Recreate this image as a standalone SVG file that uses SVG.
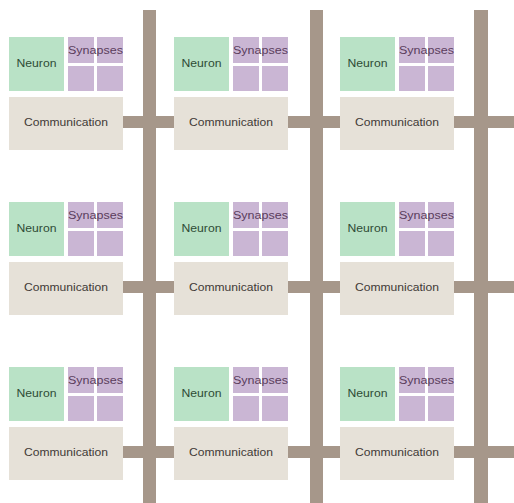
<svg xmlns="http://www.w3.org/2000/svg" width="514" height="503" viewBox="0 0 514 503">
<style>
.bar{fill:#a6978a}
.neu{fill:#b9e2c6}
.syn{fill:#cab6d4}
.com{fill:#e6e1d8}
text{font-family:"Liberation Sans",Arial,sans-serif;text-anchor:middle}
.tn{font-size:10px;fill:#2f4c36}
.ts{font-size:10px;fill:#5b3d5c}
.tc{font-size:10.5px;fill:#3f3a36}
</style>
<defs>
<g id="tile">
<rect class="neu" x="0" y="0" width="55" height="54"/>
<rect class="syn" x="59" y="0" width="26" height="26"/>
<rect class="syn" x="88" y="0" width="26" height="26"/>
<rect class="syn" x="59" y="29" width="26" height="25"/>
<rect class="syn" x="88" y="29" width="26" height="25"/>
<rect class="com" x="0" y="60" width="114" height="53"/>
<text class="tn" x="27.5" y="30" textLength="40" lengthAdjust="spacingAndGlyphs">Neuron</text>
<text class="ts" x="86.5" y="17" textLength="55" lengthAdjust="spacingAndGlyphs">Synapses</text>
<text class="tc" x="57" y="89" textLength="84" lengthAdjust="spacingAndGlyphs">Communication</text>
</g>
</defs>
<rect width="514" height="503" fill="#ffffff"/>
<g id="connectors">
<rect class="bar" x="143" y="10" width="13" height="493"/>
<rect class="bar" x="310" y="10" width="13" height="493"/>
<rect class="bar" x="474" y="10" width="14" height="493"/>
<rect class="bar" x="123" y="116" width="391" height="12"/>
<rect class="bar" x="123" y="281" width="391" height="12"/>
<rect class="bar" x="123" y="446" width="391" height="12"/>
</g>
<g id="n11"><use href="#tile" x="9" y="37"/></g>
<g id="n12"><use href="#tile" x="174" y="37"/></g>
<g id="n13"><use href="#tile" x="340" y="37"/></g>
<g id="n21"><use href="#tile" x="9" y="202"/></g>
<g id="n22"><use href="#tile" x="174" y="202"/></g>
<g id="n23"><use href="#tile" x="340" y="202"/></g>
<g id="n31"><use href="#tile" x="9" y="367"/></g>
<g id="n32"><use href="#tile" x="174" y="367"/></g>
<g id="n33"><use href="#tile" x="340" y="367"/></g>
</svg>
